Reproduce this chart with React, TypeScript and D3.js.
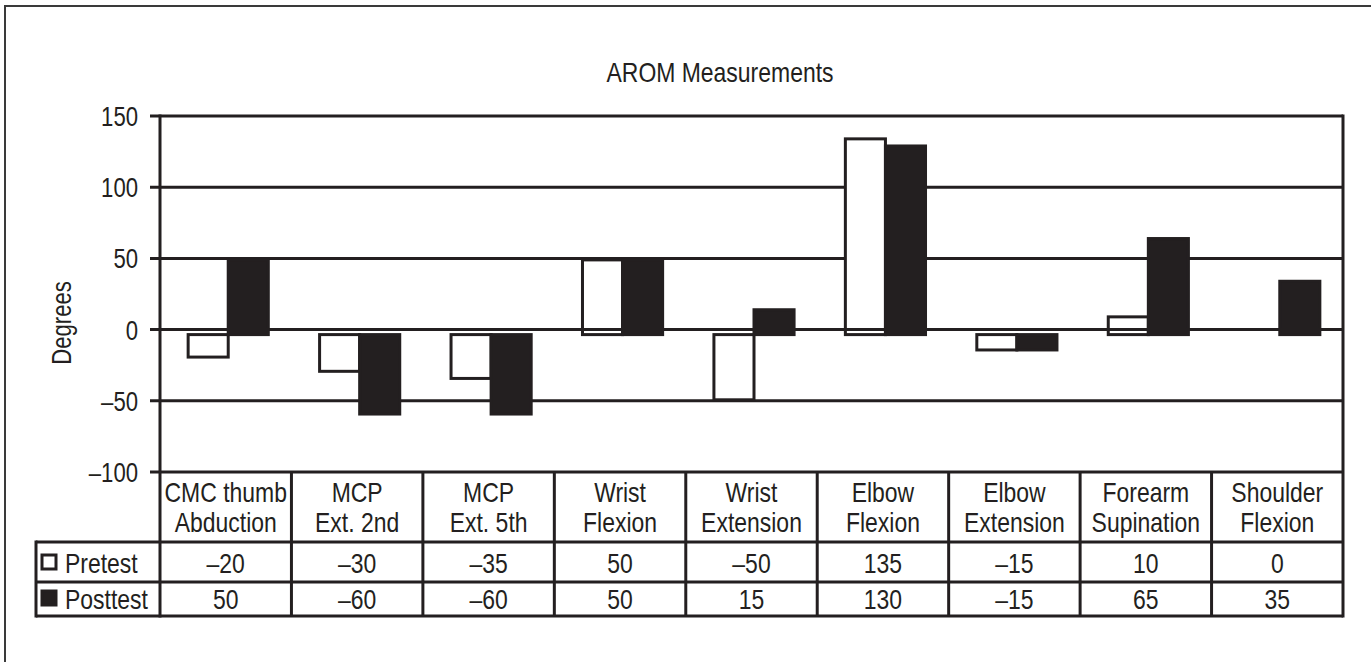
import React, { useEffect, useRef } from 'react';
import * as d3 from 'd3';

const categories: string[][] = [
  ['CMC thumb', 'Abduction'],
  ['MCP', 'Ext. 2nd'],
  ['MCP', 'Ext. 5th'],
  ['Wrist', 'Flexion'],
  ['Wrist', 'Extension'],
  ['Elbow', 'Flexion'],
  ['Elbow', 'Extension'],
  ['Forearm', 'Supination'],
  ['Shoulder', 'Flexion'],
];
const seriesNames = ['Pretest', 'Posttest'];
const pretest = [-20, -30, -35, 50, -50, 135, -15, 10, 0];
const posttest = [50, -60, -60, 50, 15, 130, -15, 65, 35];
const yTicks = [150, 100, 50, 0, -50, -100];

const INK = '#231f20';
const FONT = '"Liberation Sans", Arial, sans-serif';
// no narrow face installed, so squeeze the regular one
const NARROW = 0.82;

const fmt = (v: number) => (v < 0 ? '\u2013' + Math.abs(v) : String(v));

type Sel = d3.Selection<any, unknown, null, undefined>;

const label = (g: Sel, x: number, y: number, txt: string, anchor = 'middle', size = 28, extra = '') =>
  g.append('text')
    .attr('transform', `translate(${x},${y})${extra} scale(${NARROW},1)`)
    .attr('text-anchor', anchor)
    .attr('font-family', FONT)
    .attr('font-size', size)
    .attr('fill', INK)
    .text(txt);

const App: React.FC = () => {
  const svgRef = useRef<SVGSVGElement>(null);

  useEffect(() => {
    if (!svgRef.current) return;
    document.body.style.margin = '0';

    const svg = d3.select(svgRef.current);
    svg.selectAll('*').remove();

    const left = 160;
    const right = 1343;
    const top = 116;
    const bottom = 472;
    const tableLeft = 36;
    const rowLines = [542, 582, 616];

    const keys = categories.map((_, i) => String(i));
    const x0 = d3.scaleBand().domain(keys).range([left, right]).padding(0);
    const x1 = d3.scaleBand().domain(seriesNames).range([0, x0.bandwidth()]).paddingInner(0).paddingOuter(0.64);
    const y = d3.scaleLinear().domain([-100, 150]).range([bottom, top]);
    const shift = 2.5;

    // outer frame (cropped at right and bottom)
    svg.append('path')
      .attr('d', 'M5,662 L5,6 L1371,6')
      .attr('fill', 'none')
      .attr('stroke', '#3a3a3a')
      .attr('stroke-width', 2);

    label(svg, 720, 82, 'AROM Measurements');
    label(svg, 71, 323, 'Degrees', 'middle', 27, ' rotate(-90)');

    // gridlines + ticks
    svg.append('g')
      .selectAll('line')
      .data(yTicks.filter(d => d !== 0))
      .join('line')
        .attr('x1', left - 10)
        .attr('x2', right)
        .attr('y1', d => y(d))
        .attr('y2', d => y(d))
        .attr('stroke', INK)
        .attr('stroke-width', 3);

    const tickG = svg.append('g');
    yTicks.forEach(d => label(tickG, 138, y(d) + 10, fmt(d), 'end', 27));

    // bars
    const barData = categories.flatMap((_, i) => [
      { key: keys[i], series: 'Pretest', value: pretest[i] },
      { key: keys[i], series: 'Posttest', value: posttest[i] },
    ]).filter(d => d.value !== 0);

    const base = y(0);
    svg.append('g')
      .selectAll('rect')
      .data(barData)
      .join('rect')
        .attr('x', d => (x0(d.key) || 0) + (x1(d.series) || 0) + shift)
        .attr('width', x1.bandwidth())
        .attr('y', d => (d.value >= 0 ? y(d.value) + 1.5 : base + 5))
        .attr('height', d => (d.value >= 0 ? base + 3.5 - y(d.value) : y(d.value) - base - 6))
        .attr('fill', d => (d.series === 'Pretest' ? '#fff' : INK))
        .attr('stroke', INK)
        .attr('stroke-width', 3);

    // zero line on top
    svg.append('line')
      .attr('x1', left - 10)
      .attr('x2', right)
      .attr('y1', base)
      .attr('y2', base)
      .attr('stroke', INK)
      .attr('stroke-width', 3);

    // axis frame
    const frame = svg.append('g').attr('stroke', INK).attr('stroke-width', 3);
    frame.append('line').attr('x1', left).attr('x2', left).attr('y1', top - 1.5).attr('y2', rowLines[2] + 1.5);
    frame.append('line').attr('x1', right).attr('x2', right).attr('y1', top - 1.5).attr('y2', rowLines[2] + 1.5);

    // table lines
    frame.selectAll('line.row')
      .data(rowLines)
      .join('line')
        .attr('class', 'row')
        .attr('x1', tableLeft)
        .attr('x2', right)
        .attr('y1', d => d)
        .attr('y2', d => d);
    frame.append('line')
      .attr('x1', tableLeft).attr('x2', tableLeft)
      .attr('y1', rowLines[0] - 1.5).attr('y2', rowLines[2] + 1.5);
    frame.selectAll('line.col')
      .data(keys.slice(1))
      .join('line')
        .attr('class', 'col')
        .attr('x1', d => x0(d) || 0)
        .attr('x2', d => x0(d) || 0)
        .attr('y1', bottom)
        .attr('y2', rowLines[2]);

    // header labels
    const header = svg.append('g');
    categories.forEach((lines, i) => {
      const cx = (x0(keys[i]) || 0) + x0.bandwidth() / 2;
      lines.forEach((line, j) => label(header, cx, 502 + j * 30, line));
    });

    // value rows
    const rows = [
      { name: 'Pretest', values: pretest, baseline: 573, fill: '#fff' },
      { name: 'Posttest', values: posttest, baseline: 609, fill: INK },
    ];
    rows.forEach(row => {
      const g = svg.append('g');
      g.append('rect')
        .attr('x', 42)
        .attr('y', row.baseline - 18)
        .attr('width', 14)
        .attr('height', 14)
        .attr('fill', row.fill)
        .attr('stroke', INK)
        .attr('stroke-width', 3);
      label(g, 65, row.baseline, row.name, 'start');
      row.values.forEach((v, i) =>
        label(g, (x0(keys[i]) || 0) + x0.bandwidth() / 2, row.baseline, fmt(v)));
    });
  }, []);

  return (
    <svg
      ref={svgRef}
      width={1371}
      height={662}
      style={{ display: 'block', background: '#fff' }}
    />
  );
};

export default App;
